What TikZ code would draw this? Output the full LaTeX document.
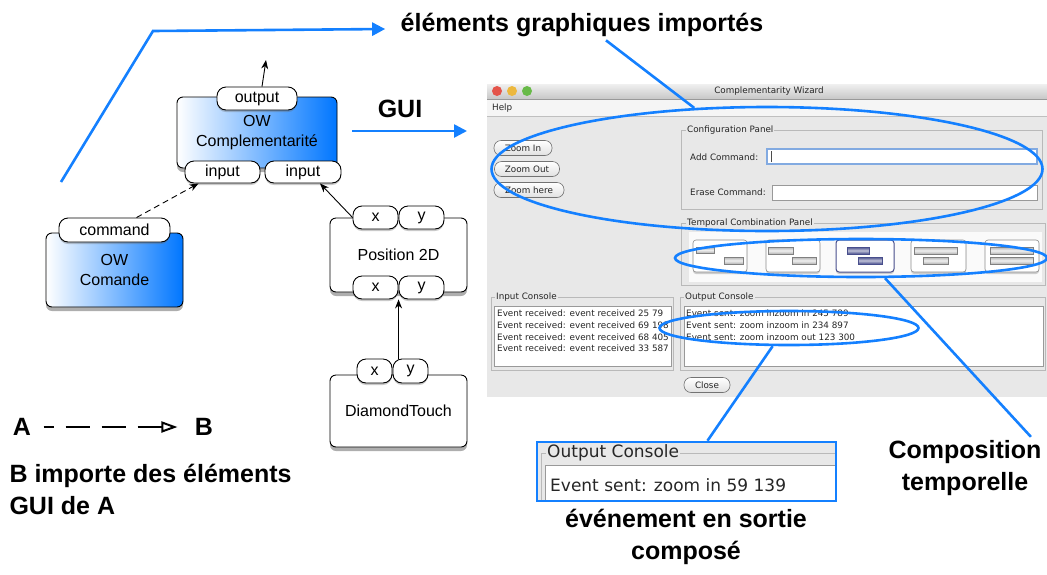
\documentclass[tikz,border=0pt]{standalone}
\usepackage{fontspec}
\setmainfont{Liberation Sans}
\newfontfamily\guifont{DejaVu Sans}
\usepackage{tikz}
\usetikzlibrary{arrows.meta,shapes.geometric,shadows,calc}

\definecolor{hiblue}{RGB}{20,128,255}
\definecolor{owblue}{RGB}{0,118,255}
\definecolor{guibg}{RGB}{232,232,232}
\definecolor{guiline}{RGB}{185,185,185}
\definecolor{selblue}{RGB}{72,78,140}
\definecolor{tlred}{RGB}{228,84,74}
\definecolor{tlyellow}{RGB}{236,184,62}
\definecolor{tlgreen}{RGB}{104,186,72}

\begin{document}
\begin{tikzpicture}[x=1pt, y=-1pt, >={Stealth[length=9pt,width=7pt]},
	box/.style={draw, line width=0.9pt, rounded corners=6pt, fill=white, align=center,
		font=\fontsize{16}{20}\selectfont,
		drop shadow={shadow xshift=0pt, shadow yshift=-4pt, fill=black!70, opacity=0.45}},
	owbox/.style={box, left color=white, right color=owblue},
	pill/.style={draw, line width=0.9pt, rounded corners=9pt, fill=white, inner sep=0pt,
		minimum height=23pt, font=\fontsize{16}{18}\selectfont,
		drop shadow={shadow xshift=0pt, shadow yshift=-2pt, fill=black!60, opacity=0.35}},
	lab/.style={font=\bfseries\fontsize{25}{32}\selectfont, align=center},
	hi/.style={draw=hiblue, line width=2.6pt},
	hiarrow/.style={hi, -{Triangle[length=13pt,width=13pt]}},
	ring/.style={ellipse, hi, inner sep=0pt},
	gui/.style={font=\guifont\fontsize{8.8}{10}\selectfont, text=black!85, inner sep=0pt},
	grplab/.style={gui, fill=guibg, inner sep=1pt, anchor=west},
	grp/.style={draw=guiline, line width=0.7pt},
	gbtn/.style={gui, draw=black!55, line width=0.6pt, rounded corners=7pt,
		top color=white, bottom color=black!12, minimum height=15pt},
	field/.style={draw=black!40, line width=0.6pt, fill=white},
	tbtn/.style={draw=black!45, line width=0.6pt, fill=white, rounded corners=3pt,
		drop shadow={shadow xshift=0pt, shadow yshift=-2pt, fill=black!60, opacity=0.3}},
	tbar/.style={draw=black!50, line width=0.4pt, top color=black!30, bottom color=black!30, middle color=black!6},
	tsel/.style={draw=selblue, line width=0.4pt, top color=selblue, bottom color=selblue, middle color=selblue!35}]
	\useasboundingbox (0,0) rectangle (1047,574);

	% GUI window screenshot
	\fill[guibg] (487,84) rectangle (1047,397);
	\shade[top color=black!6, bottom color=black!22] (487,84) rectangle (1047,99);
	\fill[black!4] (487,99) rectangle (1047,116);
	\draw[black!40] (487,99) -- (1047,99);
	\draw[black!25] (487,116) -- (1047,116);
	\fill[tlred] (497,91) circle (5);
	\fill[tlyellow] (512,91) circle (5);
	\fill[tlgreen] (527,91) circle (5);
	\node[gui] (wtitle) at (769,91) {Complementarity Wizard};
	\node[gui, anchor=west] (whelp) at (492,108) {Help};
	\node[gbtn, minimum width=58pt] (bzin) at (523,148) {Zoom In};
	\node[gbtn, minimum width=65pt] (bzout) at (527,169) {Zoom Out};
	\node[gbtn, minimum width=70pt] (bzhere) at (529,190) {Zoom here};
	% configuration panel
	\draw[grp] (681,130) rectangle (1042,209);
	\node[grplab] (tcfg) at (686,130) {Configuration Panel};
	\node[gui, anchor=west] (tadd) at (690,157) {Add Command:};
	\draw[draw={rgb,255:red,130;green,170;blue,225}, line width=1.2pt, fill=white] (767,149) rectangle (1037,164);
	\draw[black!70] (771,151) -- (771,162);
	\node[gui, anchor=west] (terase) at (690,192) {Erase Command:};
	\draw[field] (772,185) rectangle (1037,200);
	% temporal combination panel
	\draw[grp] (681,223) rectangle (1045,285);
	\fill[black!2] (689,232) rectangle (1042,282);
	\node[grplab] (ttmp) at (686,223) {Temporal Combination Panel};
	\draw[tbtn] (693,240) rectangle (747,272);
	\draw[tbar] (696,247) rectangle (714,253);
	\draw[tbar] (724,257) rectangle (743,264);
	\draw[tbtn] (766,240) rectangle (820,272);
	\draw[tbar] (768,247) rectangle (793,254);
	\draw[tbar] (792,257) rectangle (816,264);
	\draw[tbtn, draw=selblue, line width=1pt] (836,240) rectangle (894,272);
	\draw[tsel] (847,247) rectangle (869,254);
	\draw[tsel] (858,257) rectangle (882,264);
	\draw[tbtn] (911,240) rectangle (966,272);
	\draw[tbar] (914,247) rectangle (957,254);
	\draw[tbar] (923,257) rectangle (948,264);
	\draw[tbtn] (985,240) rectangle (1039,272);
	\draw[tbar] (990,247) rectangle (1033,254);
	\draw[tbar] (990,257) rectangle (1033,264);
	% consoles
	\draw[grp] (491,297) rectangle (673,370);
	\draw[field] (494,306) rectangle (671,366);
	\node[grplab] (tin) at (495,297) {Input Console};
	\node[gui, anchor=west] (ic1) at (497,313) {Event received: event received 25 79};
	\node[gui, anchor=west] (ic2) at (497,325) {Event received: event received 69 198};
	\node[gui, anchor=west] (ic3) at (497,337) {Event received: event received 68 405};
	\node[gui, anchor=west] (ic4) at (497,348) {Event received: event received 33 587};
	\draw[grp] (680,297) rectangle (1045,370);
	\draw[field] (684,306) rectangle (1043,366);
	\node[grplab] (tout) at (684,297) {Output Console};
	\node[gui, anchor=west] (oc1) at (686,313) {Event sent: zoom inzoom in 245 789};
	\node[gui, anchor=west] (oc2) at (686,325) {Event sent: zoom inzoom in 234 897};
	\node[gui, anchor=west] (oc3) at (686,337) {Event sent: zoom inzoom out 123 300};
	\node[gbtn, minimum width=46pt] (bclose) at (707,385) {Close};

	% selections on the window
	\node[ring, minimum width=551pt, minimum height=124pt] (selcfg) at (767,169) {};
	\node[ring, minimum width=372pt, minimum height=38pt] (selcmb) at (861,258) {};
	\node[ring, minimum width=259pt, minimum height=34pt] (selout) at (789,328) {};

	% enlarged output console
	\fill[guibg] (537,442) rectangle (836,501);
	\begin{scope}
		\clip (537,442) rectangle (836,501);
		\draw[grp] (541,520) -- (541,453) -- (850,453);
		\node[grplab, font=\guifont\fontsize{17}{20}\selectfont] (tinset) at (546,453) {Output Console};
		\draw[field] (545,465) rectangle (850,520);
		\node[gui, anchor=west, font=\guifont\fontsize{17}{20}\selectfont] (tinev) at (550,485) {Event sent: zoom in 59 139};
	\end{scope}
	\node[draw=hiblue, line width=2.6pt, minimum width=299pt, minimum height=59pt, inner sep=0pt] (inset) at (686.5,471.5) {};

	% labels
	\node[lab] (imp) at (582,25) {éléments graphiques importés};
	\node[lab] (tgui) at (400,109) {GUI};
	\node[lab] (ct) at (965,468) {Composition\\temporelle};
	\node[lab] (evt) at (686,537) {événement en sortie\\composé};

	% components
	\node[owbox, minimum width=160pt, minimum height=71pt] (owc) at (257,132.5) {OW\\Complementarité};
	\node[pill, minimum width=80pt] (outp) at (257,98.5) {output};
	\node[pill, minimum width=75pt, minimum height=22pt] (in1) at (222.5,172) {input};
	\node[pill, minimum width=76pt, minimum height=22pt] (in2) at (303,172) {input};
	\node[owbox, minimum width=137pt, minimum height=74pt] (owcmd) at (114.5,270) {OW\\Comande};
	\node[pill, minimum width=111pt, minimum height=24pt] (cmd) at (114.5,230) {command};
	\node[box, minimum width=137pt, minimum height=74pt] (pos) at (398.5,255) {Position 2D};
	\node[pill, minimum width=45pt] (pxt) at (375.5,217.5) {x};
	\node[pill, minimum width=45pt] (pyt) at (421.5,217.5) {y};
	\node[pill, minimum width=45pt] (pxb) at (375.5,287.5) {x};
	\node[pill, minimum width=45pt] (pyb) at (421.5,287.5) {y};
	\node[box, minimum width=137pt, minimum height=72pt] (dt) at (398.5,411) {DiamondTouch};
	\node[pill, minimum width=35pt, minimum height=24pt] (dtx) at (374.5,371) {x};
	\node[pill, minimum width=35pt, minimum height=24pt] (dty) at (410.5,371) {y};

	% wiring
	\coordinate (outto) at (266,60);
	\draw[->, line width=0.9pt] ([xshift=5pt]outp.north) -- (outto);
	\draw[->, line width=0.9pt, dash pattern=on 6pt off 4pt] ([xshift=22pt]cmd.north) -- ([xshift=-24pt]in1.south);
	\draw[->, line width=0.9pt] (pxt.west) -- ([xshift=17pt]in2.south);
	\draw[->, line width=0.9pt] (dty.north west -| pyb.south west) -- (pyb.south west);

	% blue pointers
	\coordinate (hifrom) at (61,182);
	\coordinate (hibend) at (153,31);
	\draw[hiarrow] (hifrom) -- (hibend) -- ([xshift=-12pt,yshift=-4pt]imp.west);
	\draw[hi] ([xshift=24pt]imp.south) -- (selcfg.140);
	\coordinate (guifrom) at (352,131);
	\coordinate (guito) at (467,131);
	\draw[hiarrow] (guifrom) -- (guito);
	\draw[hi] (selcmb.-40) -- ([xshift=-14pt]ct.north east);
	\draw[hi] (selout.-132) -- ([xshift=21pt]inset.north);

	% legend
	\node[lab] (la) at (22,427) {A};
	\node[lab] (lb) at (204,427) {B};
	\draw[line width=2pt, dash pattern=on 24pt off 12pt, dash phase=14pt, shorten <=9pt, shorten >=14pt,
		-{Triangle[open, length=16pt, width=11pt, line width=2pt]}] (la.east) -- (lb.west);
	\node[lab, align=left, anchor=west] (lcap) at (6,489) {B importe des éléments\\GUI de A};
\end{tikzpicture}
\end{document}
